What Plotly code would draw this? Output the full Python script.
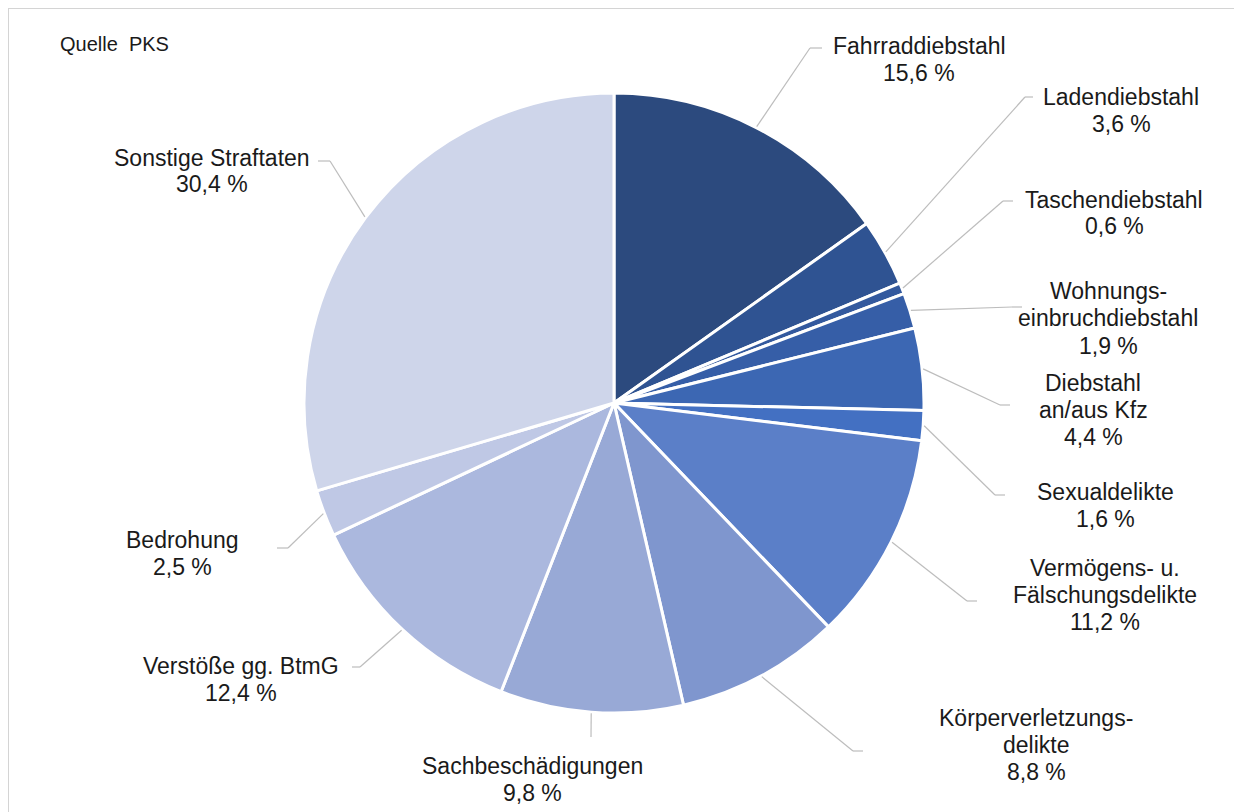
import math
import plotly.graph_objects as go

# ---- data ----
categories = [
    "Fahrraddiebstahl", "Ladendiebstahl", "Taschendiebstahl", "Wohnungseinbruchdiebstahl",
    "Diebstahl an/aus Kfz", "Sexualdelikte", "Vermögens- u. Fälschungsdelikte",
    "Körperverletzungsdelikte", "Sachbeschädigungen", "Verstöße gg. BtmG",
    "Bedrohung", "Sonstige Straftaten",
]
shares = [15.6, 3.6, 0.6, 1.9, 4.4, 1.6, 11.2, 8.8, 9.8, 12.4, 2.5, 30.4]
label_lines = [
    ["Fahrraddiebstahl"], ["Ladendiebstahl"], ["Taschendiebstahl"],
    ["Wohnungs-", "einbruchdiebstahl"], ["Diebstahl", "an/aus Kfz"], ["Sexualdelikte"],
    ["Vermögens- u.", "Fälschungsdelikte"], ["Körperverletzungs-", "delikte"],
    ["Sachbeschädigungen"], ["Verstöße gg. BtmG"], ["Bedrohung"], ["Sonstige Straftaten"],
]
colors = ["#2C4A7E", "#2F5392", "#33599E", "#365EA7", "#3C67B3", "#4370C2",
          "#5B7FC8", "#7F96CE", "#98A9D6", "#ABB8DE", "#BFC8E5", "#CED5EA"]

# ---- layout of labels (pixel positions in the screenshot; style, not data) ----
W, H = 1242, 812
OFF = 8  # page body margin
CX, CY, R = 614, 403, 310
# (text centre x, first-line centre y, line spacing, elbow x, elbow y, end x)
label_pos = [
    (919, 46, 26.5, 810, 48, 822),
    (1121, 97, 26.5, 1025, 97, 1033),
    (1114, 200, 26.5, 1003, 201, 1013),
    (1108, 291, 27.5, 1012, 307, 1022),
    (1093, 383, 27.0, 1000, 405, 1010),
    (1105, 492, 26.5, 995, 495, 1005),
    (1105, 568, 27.0, 967, 601, 977),
    (1036, 718, 27.0, 853, 751, 863),
    (532, 766, 26.5, 591, 737, 591),
    (241, 666, 26.5, 360, 667, 352),
    (183, 540, 26.5, 288, 548, 277),
    (212, 158, 26.5, 330, 161, 318),
]

def px(x):
    return (x - OFF) / W

def py(y):
    return 1 - (y - OFF) / H

fig = go.Figure(go.Pie(
    labels=categories, values=shares, sort=False, direction="clockwise", rotation=0,
    marker=dict(colors=colors, line=dict(color="white", width=3)),
    textinfo="none", hoverinfo="label+value", showlegend=False,
    domain=dict(x=[px(CX - R), px(CX + R)], y=[py(CY + R), py(CY - R)]),
))

shapes = []
annotations = []
total = sum(shares)
cum = 0.0
FONT = dict(family="Liberation Sans, Arial, sans-serif", size=23, color="#1a1a1a")
for name_lines, val, pos in zip(label_lines, shares, label_pos):
    mid = (cum + val / 2) / total * 2 * math.pi
    cum += val
    sx = CX + (R + 1) * math.sin(mid)
    sy = CY - (R + 1) * math.cos(mid)
    tx, ty, sp, ex, ey, endx = pos
    lc = dict(color="#BDBDBD", width=1.2)
    shapes.append(dict(type="line", xref="paper", yref="paper",
                       x0=px(sx), y0=py(sy), x1=px(ex), y1=py(ey), line=lc))
    if endx != ex:
        shapes.append(dict(type="line", xref="paper", yref="paper",
                           x0=px(ex), y0=py(ey), x1=px(endx), y1=py(ey), line=lc))
    lines = name_lines + [f"{val:.1f}".replace(".", ",") + " %"]
    for i, t in enumerate(lines):
        annotations.append(dict(text=t, x=px(tx), y=py(ty + i * sp), xref="paper", yref="paper",
                                xanchor="center", yanchor="middle", showarrow=False, font=FONT))

annotations.append(dict(text="Quelle  PKS", x=px(58), y=py(44), xref="paper", yref="paper",
                        xanchor="left", yanchor="middle", showarrow=False,
                        font=dict(family="Liberation Sans, Arial, sans-serif", size=20, color="#1a1a1a")))

# frame
shapes.append(dict(type="rect", xref="paper", yref="paper", x0=px(8), y0=py(840), x1=px(1236), y1=py(8),
                   line=dict(color="#D4D4D4", width=2), layer="below"))
shapes.append(dict(type="line", xref="paper", yref="paper", x0=px(1239), y0=py(12), x1=px(1239), y1=py(840),
                   line=dict(color="#E6E6E6", width=3), layer="below"))

fig.update_layout(
    width=W, height=H, margin=dict(l=0, r=0, t=0, b=0),
    paper_bgcolor="white", plot_bgcolor="white",
    shapes=shapes, annotations=annotations,
)
fig.write_html("out.html")
